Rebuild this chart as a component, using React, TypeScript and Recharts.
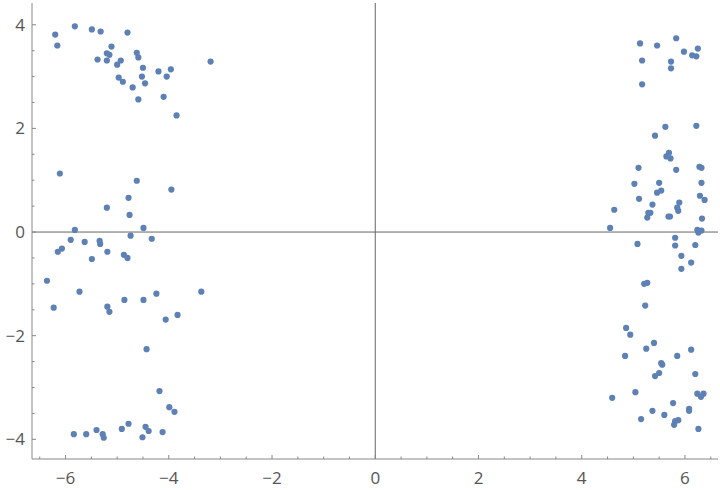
import React from 'react';
import { ScatterChart, Scatter, XAxis, YAxis, ReferenceLine } from 'recharts';

// point clouds, grouped by cluster
const upperLeft: [number, number][] = [
  [-6.20, 3.81], [-6.16, 3.60], [-5.82, 3.97], [-5.49, 3.91], [-5.32, 3.87], [-4.80, 3.85],
  [-5.11, 3.58], [-5.20, 3.45], [-5.15, 3.42], [-5.38, 3.33], [-5.20, 3.31], [-4.93, 3.31],
  [-5.00, 3.23], [-4.62, 3.46], [-4.59, 3.37], [-4.50, 3.17], [-4.97, 2.98], [-4.89, 2.90],
  [-4.52, 3.00], [-4.46, 2.87], [-4.70, 2.79], [-4.59, 2.56], [-4.20, 3.10], [-3.96, 3.14],
  [-4.04, 3.00], [-4.10, 2.61], [-3.85, 2.25], [-3.19, 3.29],
];

const middleLeft: [number, number][] = [
  [-6.11, 1.13], [-4.62, 0.99], [-3.95, 0.82], [-4.78, 0.66], [-5.20, 0.47], [-4.76, 0.33],
  [-5.82, 0.04], [-4.49, 0.08], [-4.74, -0.07], [-4.33, -0.13], [-5.90, -0.15], [-5.63, -0.19],
  [-5.34, -0.17], [-5.33, -0.23], [-6.07, -0.32], [-6.15, -0.38], [-5.19, -0.38], [-5.49, -0.52],
  [-4.87, -0.44], [-4.80, -0.50], [-6.36, -0.94], [-6.23, -1.46], [-5.73, -1.15], [-5.19, -1.44],
  [-5.15, -1.54], [-4.86, -1.31], [-4.49, -1.31], [-4.24, -1.19], [-4.06, -1.69], [-3.83, -1.60],
  [-3.37, -1.15], [-4.43, -2.26],
];

const lowerLeft: [number, number][] = [
  [-4.18, -3.07], [-3.99, -3.38], [-3.89, -3.47], [-5.84, -3.90], [-5.60, -3.90], [-5.40, -3.82],
  [-5.28, -3.90], [-5.26, -3.97], [-4.91, -3.80], [-4.78, -3.70], [-4.45, -3.76], [-4.39, -3.84],
  [-4.51, -3.96], [-4.12, -3.86],
];

const rightSide: [number, number][] = [
  [5.13, 3.64], [5.46, 3.60], [5.83, 3.74], [5.98, 3.48], [6.25, 3.54], [6.14, 3.41],
  [6.22, 3.39], [5.17, 3.31], [5.73, 3.29], [5.73, 3.16], [5.17, 2.85], [6.22, 2.05],
  [5.62, 2.03], [5.42, 1.86], [5.69, 1.53], [5.64, 1.46], [5.72, 1.42], [5.10, 1.24],
  [5.83, 1.20], [6.28, 1.26], [6.32, 1.24], [5.02, 0.93], [5.50, 0.95], [6.32, 0.95],
  [5.46, 0.76], [5.54, 0.80], [5.11, 0.64], [6.29, 0.70], [6.38, 0.62], [5.37, 0.53],
  [5.89, 0.57], [5.85, 0.47], [5.87, 0.41], [4.63, 0.43], [5.29, 0.37], [5.33, 0.37],
  [5.27, 0.28], [5.68, 0.30], [5.71, 0.30], [6.33, 0.26], [4.55, 0.08], [6.24, 0.04],
  [6.32, 0.03], [6.26, -0.01], [5.81, -0.11], [5.08, -0.23], [5.81, -0.26], [6.20, -0.25],
  [5.93, -0.46], [6.12, -0.59], [5.93, -0.71], [5.21, -1.00], [5.27, -0.98], [5.23, -1.42],
  [4.86, -1.85], [4.94, -1.98], [5.40, -2.14], [5.25, -2.25], [6.12, -2.27], [4.84, -2.39],
  [5.85, -2.39], [5.54, -2.53], [5.56, -2.56], [5.50, -2.72], [5.42, -2.78], [6.20, -2.74],
  [5.04, -3.09], [4.59, -3.20], [6.24, -3.12], [6.31, -3.18], [6.36, -3.12], [5.77, -3.30],
  [5.37, -3.45], [6.08, -3.41], [6.08, -3.45], [5.60, -3.53], [5.15, -3.61], [5.81, -3.65],
  [5.87, -3.63], [5.79, -3.72], [6.26, -3.80],
];

const xTicks = [-6.5, -6, -5.5, -5, -4.5, -4, -3.5, -3, -2.5, -2, -1.5, -1, -0.5, 0, 0.5, 1, 1.5, 2, 2.5, 3, 3.5, 4, 4.5, 5, 5.5, 6, 6.5];
const yTicks = [-4, -3.5, -3, -2.5, -2, -1.5, -1, -0.5, 0, 0.5, 1, 1.5, 2, 2.5, 3, 3.5, 4];

const X_DOMAIN: [number, number] = [-6.65, 6.64];
const Y_DOMAIN: [number, number] = [-4.38, 4.42];

const POINT = '#5e81b5';
const FRAME = '#888888';
const AXIS = '#666666';
const LABEL = '#555555';
const FONT = '"Open Sans", "DejaVu Sans", sans-serif';

const isMajor = (v: number) => Math.abs(v % 2) < 1e-9;
const fmt = (v: number) => (v < 0 ? `\u2212${Math.abs(v)}` : `${v}`);

const points = [...upperLeft, ...middleLeft, ...lowerLeft, ...rightSide].map(([x, y]) => ({ x, y }));

// frame ticks point inward, majors labelled on bottom/left only
const BottomTick = (props: any) => {
  const { x, y, payload } = props;
  const major = isMajor(payload.value);
  return (
    <g>
      <line x1={x} x2={x} y1={y} y2={y - (major ? 4 : 2.5)} stroke={FRAME} />
      {major && (
        <text x={x} y={y + 25} textAnchor="middle" fill={LABEL} fontSize={17} fontFamily={FONT}>
          {fmt(payload.value)}
        </text>
      )}
    </g>
  );
};

const TopTick = (props: any) => {
  const { x, y, payload } = props;
  const major = isMajor(payload.value);
  return <line x1={x} x2={x} y1={y} y2={y + (major ? 4 : 2.5)} stroke={FRAME} />;
};

const LeftTick = (props: any) => {
  const { x, y, payload } = props;
  const major = isMajor(payload.value);
  return (
    <g>
      <line x1={x} x2={x + (major ? 4 : 2.5)} y1={y} y2={y} stroke={FRAME} />
      {major && (
        <text x={x - 7} y={y + 6} textAnchor="end" fill={LABEL} fontSize={17} fontFamily={FONT}>
          {fmt(payload.value)}
        </text>
      )}
    </g>
  );
};

const RightTick = (props: any) => {
  const { x, y, payload } = props;
  const major = isMajor(payload.value);
  return <line x1={x} x2={x - (major ? 4 : 2.5)} y1={y} y2={y} stroke={FRAME} />;
};

const Dot = (props: any) => <circle cx={props.cx} cy={props.cy} r={3.1} fill={POINT} />;

export default function App() {
  return (
    <div style={{ position: 'absolute', left: 0, top: 0, width: 720, height: 490, background: '#fff' }}>
      <ScatterChart width={720} height={490} margin={{ top: 3, right: 2, bottom: 0, left: 0 }}>
        <XAxis
          xAxisId="bottom"
          dataKey="x"
          type="number"
          domain={X_DOMAIN}
          allowDataOverflow
          ticks={xTicks}
          interval={0}
          height={31}
          tickSize={0}
          tickMargin={0}
          tickLine={false}
          axisLine={{ stroke: FRAME }}
          tick={<BottomTick />}
        />
        <XAxis
          xAxisId="top"
          orientation="top"
          type="number"
          domain={X_DOMAIN}
          allowDataOverflow
          ticks={xTicks}
          interval={0}
          height={0}
          tickSize={0}
          tickMargin={0}
          tickLine={false}
          axisLine={{ stroke: FRAME }}
          tick={<TopTick />}
        />
        <YAxis
          yAxisId="left"
          dataKey="y"
          type="number"
          domain={Y_DOMAIN}
          allowDataOverflow
          ticks={yTicks}
          interval={0}
          width={32}
          tickSize={0}
          tickMargin={0}
          tickLine={false}
          axisLine={{ stroke: FRAME }}
          tick={<LeftTick />}
        />
        <YAxis
          yAxisId="right"
          orientation="right"
          type="number"
          domain={Y_DOMAIN}
          allowDataOverflow
          ticks={yTicks}
          interval={0}
          width={0}
          tickSize={0}
          tickMargin={0}
          tickLine={false}
          axisLine={{ stroke: FRAME }}
          tick={<RightTick />}
        />
        <ReferenceLine xAxisId="bottom" yAxisId="left" x={0} stroke={AXIS} strokeWidth={1} />
        <ReferenceLine xAxisId="bottom" yAxisId="left" y={0} stroke={AXIS} strokeWidth={1} />
        <Scatter
          xAxisId="bottom"
          yAxisId="left"
          data={points}
          fill={POINT}
          shape={<Dot />}
          isAnimationActive={false}
        />
      </ScatterChart>
    </div>
  );
}
